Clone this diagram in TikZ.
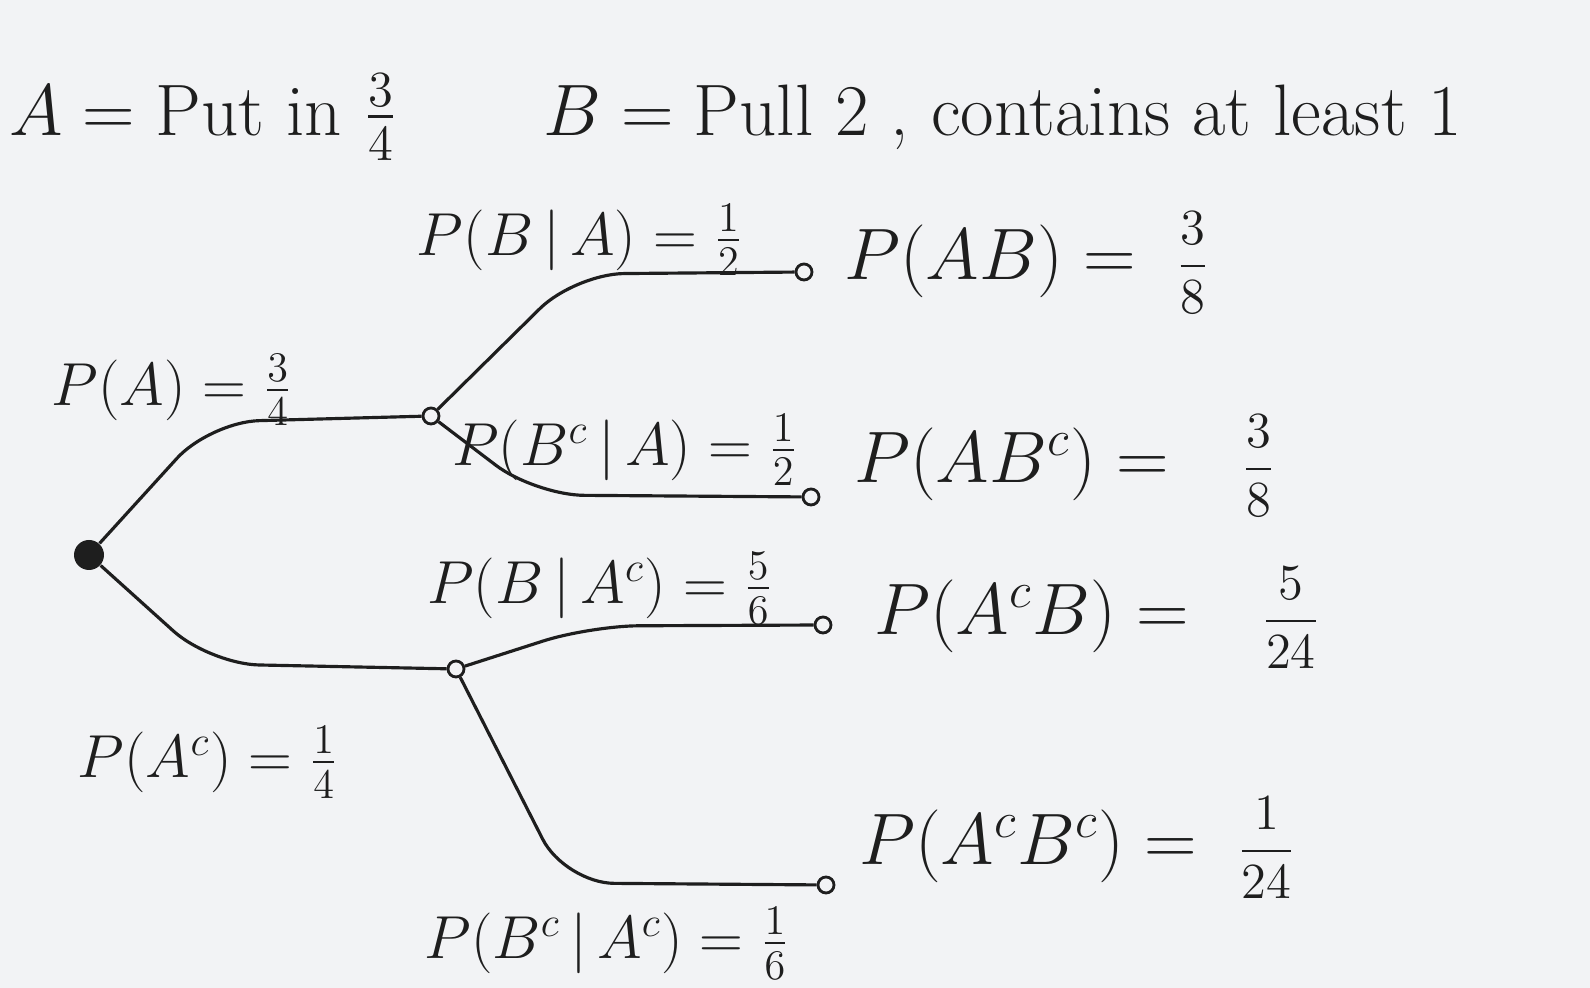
\documentclass[tikz,border=0pt]{standalone}
\usepackage{amsmath}
\definecolor{paper}{HTML}{F2F3F5}
\definecolor{ink}{HTML}{1E1E1E}
\newcommand{\jfrac}[2]{{\Large$\dfrac{#1}{#2}$}}
\tikzset{
  branch/.style={draw=ink, line width=0.9pt, rounded corners=14pt},
  joint/.style={circle, draw=ink, fill=paper, line width=0.8pt, inner sep=0pt, minimum size=1.6mm},
  rootdot/.style={circle, fill=ink, inner sep=0pt, minimum size=3mm},
  lbl/.style={text=ink, font=\LARGE, inner sep=1pt},
  joint lbl/.style={text=ink, font=\huge, inner sep=1pt, anchor=west}
}
\begin{document}
\begin{tikzpicture}
        % Hoja
        \fill[paper] (0,0) rectangle (15.9,9.88);
        \useasboundingbox (0,0) rectangle (15.9,9.88);

        % Definiciones
        \node[lbl, font=\huge, anchor=west] (defs) at (0.05,8.71) {$A=\text{Put in }\tfrac{3}{4}$\qquad $B=\text{Pull }2\text{ , contains at least }1$};

        % Nodos del arbol
        \node[rootdot] (root) at (0.89,4.33) {};
        \node[joint] (nA) at (4.31,5.72) {};
        \node[joint] (nAc) at (4.56,3.19) {};
        \node[joint] (lAB) at (8.04,7.16) {};
        \node[joint] (lABc) at (8.11,4.91) {};
        \node[joint] (lAcB) at (8.23,3.63) {};
        \node[joint] (lAcBc) at (8.26,1.03) {};

        % Ramas
        \draw[branch] (root) -- (2.1,5.66) -- (nA);
        \draw[branch] (root) -- (2.1,3.24) -- (nAc);
        \draw[branch] (nA) -- (5.75,7.14) -- (lAB);
        \draw[branch] (nA) -- (5.35,4.93) -- (lABc);
        \draw[branch] (nAc) -- (5.9,3.62) -- (lAcB);
        \draw[branch] (nAc) -- (5.65,1.05) -- (lAcBc);

        % Probabilidades de las ramas
        \node[lbl] (pA) at (1.72,5.98) {$P(A)=\frac{3}{4}$};
        \node[lbl] (pAc) at (2.08,2.26) {$P(A^c)=\frac{1}{4}$};
        \node[lbl] (pBA) at (5.80,7.48) {$P(B\,|\,A)=\frac{1}{2}$};
        \node[lbl] (pBcA) at (6.25,5.38) {$P(B^c\,|\,A)=\frac{1}{2}$};
        \node[lbl] (pBAc) at (6.00,4.00) {$P(B\,|\,A^c)=\frac{5}{6}$};
        \node[lbl] (pBcAc) at (6.07,0.45) {$P(B^c\,|\,A^c)=\frac{1}{6}$};

        % Probabilidades conjuntas
        \node[joint lbl] (jAB) at (8.40,7.25) {$P(AB)=\;\;$\jfrac{3}{8}};
        \node[joint lbl] (jABc) at (8.50,5.22) {$P(AB^c)=\quad$\jfrac{3}{8}};
        \node[joint lbl] (jAcB) at (8.70,3.70) {$P(A^cB)=\quad$\jfrac{5}{24}};
        \node[joint lbl] (jAcBc) at (8.55,1.40) {$P(A^cB^c)=\;\;$\jfrac{1}{24}};
\end{tikzpicture}
\end{document}
